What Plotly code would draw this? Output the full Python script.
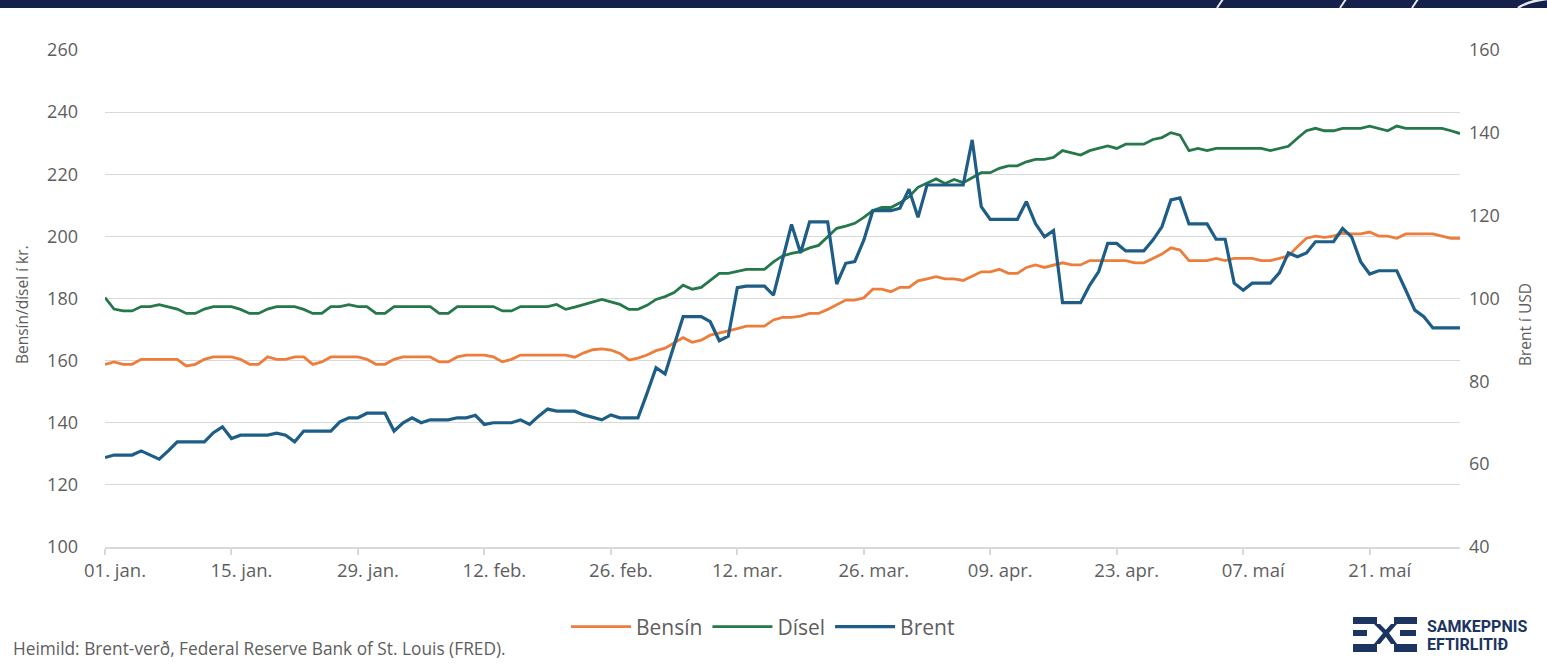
import pandas as pd
import plotly.graph_objects as go

# ---------------- data ----------------
start_date = "2022-01-01"

bensin = [158.8, 159.6, 158.8, 158.8, 160.4, 160.4, 160.4, 160.4, 160.4, 158.3,
          158.8, 160.4, 161.2, 161.2, 161.2, 160.4, 158.8, 158.8, 161.2, 160.4,
          160.4, 161.2, 161.2, 158.8, 159.6, 161.2, 161.2, 161.2, 161.2, 160.4,
          158.8, 158.8, 160.4, 161.2, 161.2, 161.2, 161.2, 159.6, 159.6, 161.2,
          161.8, 161.8, 161.8, 161.2, 159.6, 160.4, 161.8, 161.8, 161.8, 161.8,
          161.8, 161.8, 161.1, 162.5, 163.5, 163.8, 163.4, 162.3, 160.2, 160.8,
          161.8, 163.2, 164.0, 165.6, 167.4, 165.9, 166.6, 168.2, 169.0, 169.6,
          170.3, 171.1, 171.1, 171.1, 173.1, 173.9, 173.9, 174.3, 175.2, 175.2,
          176.5, 177.9, 179.5, 179.5, 180.2, 183.0, 183.0, 182.2, 183.6, 183.6,
          185.7, 186.3, 187.0, 186.3, 186.3, 185.8, 187.2, 188.6, 188.6, 189.4,
          188.1, 188.1, 190.0, 190.8, 190.0, 190.8, 191.5, 190.8, 190.8, 192.2,
          192.2, 192.2, 192.2, 192.2, 191.5, 191.5, 192.9, 194.3, 196.3, 195.6,
          192.2, 192.2, 192.2, 192.9, 192.2, 192.9, 192.9, 192.9, 192.2, 192.2,
          192.9, 193.7, 196.7, 199.4, 200.1, 199.7, 200.1, 201.0, 200.8, 200.8,
          201.4, 200.1, 200.1, 199.4, 200.8, 200.8, 200.8, 200.8, 200.1, 199.4,
          199.4]

disel = [180.3, 176.6, 176.0, 176.0, 177.4, 177.4, 178.0, 177.4, 176.6, 175.2,
         175.2, 176.6, 177.4, 177.4, 177.4, 176.5, 175.2, 175.2, 176.6, 177.4,
         177.4, 177.4, 176.5, 175.2, 175.2, 177.4, 177.4, 178.0, 177.4, 177.4,
         175.2, 175.2, 177.4, 177.4, 177.4, 177.4, 177.4, 175.2, 175.2, 177.4,
         177.4, 177.4, 177.4, 177.4, 176.0, 176.0, 177.4, 177.4, 177.4, 177.4,
         178.1, 176.5, 177.2, 178.1, 179.0, 179.7, 178.9, 178.1, 176.5, 176.5,
         177.8, 179.7, 180.6, 181.9, 184.3, 183.0, 183.6, 186.0, 188.1, 188.1,
         188.7, 189.4, 189.4, 189.4, 191.8, 193.7, 194.5, 195.1, 196.3, 197.1,
         199.9, 202.6, 203.3, 204.2, 206.1, 208.3, 209.3, 209.3, 210.8, 212.8,
         215.8, 217.2, 218.5, 217.0, 218.3, 217.3, 218.8, 220.5, 220.5, 221.9,
         222.7, 222.7, 224.0, 224.8, 224.8, 225.4, 227.6, 227.0, 226.2, 227.6,
         228.3, 229.1, 228.3, 229.7, 229.7, 229.7, 231.2, 231.8, 233.4, 232.6,
         227.6, 228.3, 227.6, 228.3, 228.3, 228.3, 228.3, 228.3, 228.3, 227.6,
         228.3, 229.0, 231.6, 234.0, 234.8, 234.0, 234.0, 234.8, 234.8, 234.8,
         235.5, 234.8, 234.0, 235.5, 234.8, 234.8, 234.8, 234.8, 234.8, 234.0,
         233.1]

brent = [61.6, 62.2, 62.2, 62.2, 63.2, 62.2, 61.2, 63.2, 65.4, 65.4,
         65.4, 65.4, 67.6, 69.0, 66.2, 67.0, 67.0, 67.0, 67.0, 67.5,
         67.0, 65.4, 68.0, 68.0, 68.0, 68.0, 70.2, 71.2, 71.2, 72.3,
         72.3, 72.3, 68.0, 70.0, 71.2, 70.0, 70.7, 70.7, 70.7, 71.2,
         71.2, 71.8, 69.6, 70.0, 70.0, 70.0, 70.7, 69.6, 71.6, 73.3,
         72.8, 72.8, 72.8, 71.9, 71.3, 70.7, 71.9, 71.2, 71.2, 71.2,
         77.1, 83.3, 81.8, 88.4, 95.6, 95.6, 95.6, 94.4, 89.8, 90.9,
         102.6, 103.0, 103.0, 103.0, 100.8, 109.3, 117.9, 111.0, 118.5, 118.5,
         118.5, 103.5, 108.5, 108.9, 114.1, 121.2, 121.2, 121.2, 121.8, 126.4,
         119.6, 127.4, 127.4, 127.4, 127.4, 127.4, 138.3, 122.2, 119.1, 119.1,
         119.1, 119.1, 123.4, 118.1, 114.9, 116.4, 99.0, 99.0, 99.0, 103.2,
         106.5, 113.3, 113.3, 111.5, 111.5, 111.5, 114.1, 117.3, 123.8, 124.3,
         118.0, 118.0, 118.0, 114.3, 114.3, 103.7, 102.0, 103.7, 103.7, 103.7,
         106.2, 111.0, 110.1, 111.0, 113.7, 113.7, 113.7, 116.9, 114.9, 108.9,
         105.9, 106.7, 106.7, 106.7, 102.0, 97.2, 95.6, 92.9, 92.9, 92.9,
         92.9]

tick_dates = ["2022-01-01", "2022-01-15", "2022-01-29", "2022-02-12", "2022-02-26",
              "2022-03-12", "2022-03-26", "2022-04-09", "2022-04-23", "2022-05-07",
              "2022-05-21"]
tick_labels = ["01. jan.", "15. jan.", "29. jan.", "12. feb.", "26. feb.",
               "12. mar.", "26. mar.", "09. apr.", "23. apr.", "07. maí", "21. maí"]

series_names = ["Bensín", "Dísel", "Brent"]

# ---------------- styling ----------------
W, H = 1547, 664
ML, MR, MT, MB = 105, 87, 50, 117
PW, PH = W - ML - MR, H - MT - MB

C_ORANGE = "#ED7D3B"
C_GREEN = "#25784A"
C_BLUE = "#1D5D86"
C_NAVY = "#15204B"
C_LOGO = "#1B3460"
C_GRID = "#D9D9D9"
C_TEXT = "#5E5E5E"
FONT = "Open Sans"


def px(x):
    return (x - ML) / PW


def py(y):
    return (H - MB - y) / PH


dates = pd.date_range(start_date, periods=len(disel), freq="D")

fig = go.Figure()
fig.add_trace(go.Scatter(x=dates, y=bensin, name=series_names[0], mode="lines",
                         line=dict(color=C_ORANGE, width=2.8)))
fig.add_trace(go.Scatter(x=dates, y=disel, name=series_names[1], mode="lines",
                         line=dict(color=C_GREEN, width=2.8)))
fig.add_trace(go.Scatter(x=dates, y=brent, name=series_names[2], mode="lines",
                         line=dict(color=C_BLUE, width=3.2), yaxis="y2"))

shapes = []
# top banner
shapes.append(dict(type="rect", xref="paper", yref="paper",
                   x0=px(-2), x1=px(W + 2), y0=py(8), y1=py(-2),
                   fillcolor=C_NAVY, line=dict(width=0), layer="above"))
for xa in [1220, 1343, 1415]:
    shapes.append(dict(type="line", xref="paper", yref="paper",
                       x0=px(xa + 3), x1=px(xa - 3), y0=py(-1), y1=py(8),
                       line=dict(color="#E6E8EE", width=2)))
shapes.append(dict(type="path", xref="paper", yref="paper",
                   path=f"M{px(1518)},{py(8)} Q{px(1528)},{py(1)} {px(1547)},{py(-1)}",
                   line=dict(color="#E6E8EE", width=2.5)))

# logo icon
def rect(x0, y0, x1, y1):
    return dict(type="rect", xref="paper", yref="paper",
                x0=px(x0), x1=px(x1), y0=py(y1), y1=py(y0),
                fillcolor=C_LOGO, line=dict(width=0))

shapes += [rect(1353, 617, 1377, 624), rect(1353, 630, 1367, 636), rect(1353, 644, 1377, 652),
           rect(1394, 617, 1417, 624), rect(1400, 630, 1416, 636), rect(1394, 644, 1417, 652)]
poly = (f"M{px(1374)},{py(624)} L{px(1380)},{py(624)} L{px(1389)},{py(633)} "
        f"L{px(1380)},{py(644)} L{px(1374)},{py(644)} L{px(1383)},{py(633)} Z")
shapes.append(dict(type="path", xref="paper", yref="paper", path=poly,
                   fillcolor=C_LOGO, line=dict(width=0)))
poly2 = (f"M{px(1397)},{py(624)} L{px(1391)},{py(624)} L{px(1383)},{py(633)} "
         f"L{px(1391)},{py(644)} L{px(1397)},{py(644)} L{px(1389)},{py(633)} Z")
shapes.append(dict(type="path", xref="paper", yref="paper", path=poly2,
                   fillcolor=C_LOGO, line=dict(width=0)))

annotations = [
    dict(text="Bensín/dísel í kr.", xref="paper", yref="paper", x=px(22), y=py(305),
         xanchor="center", yanchor="middle", textangle=-90, showarrow=False,
         font=dict(family=FONT, size=15.5, color=C_TEXT)),
    dict(text="Brent í USD", xref="paper", yref="paper", x=px(1525), y=py(325),
         xanchor="center", yanchor="middle", textangle=-90, showarrow=False,
         font=dict(family=FONT, size=15.5, color=C_TEXT)),
    dict(text="Heimild: Brent-verð, Federal Reserve Bank of St. Louis (FRED).",
         xref="paper", yref="paper", x=px(11), y=py(648), xanchor="left", yanchor="middle",
         showarrow=False, font=dict(family=FONT, size=17.3, color=C_TEXT)),
    dict(text="<b>SAMKEPPNIS</b>", xref="paper", yref="paper", x=px(1425), y=py(626),
         xanchor="left", yanchor="middle", showarrow=False,
         font=dict(family="Roboto", size=16, color=C_LOGO)),
    dict(text="<b>EFTIRLITIÐ</b>", xref="paper", yref="paper", x=px(1425), y=py(644),
         xanchor="left", yanchor="middle", showarrow=False,
         font=dict(family="Roboto", size=16, color=C_LOGO)),
]

fig.update_layout(
    width=W, height=H,
    margin=dict(l=ML, r=MR, t=MT, b=MB, pad=0),
    paper_bgcolor="white", plot_bgcolor="white",
    font=dict(family=FONT, color=C_TEXT),
    showlegend=True,
    legend=dict(orientation="h", x=px(763), y=py(627), xanchor="center", yanchor="middle",
                font=dict(family=FONT, size=21, color=C_TEXT), itemwidth=60,
                bgcolor="rgba(0,0,0,0)", tracegroupgap=0),
    xaxis=dict(type="date", range=[dates[0], dates[-1]],
               tickmode="array", tickvals=tick_dates, ticktext=tick_labels,
               showgrid=False, zeroline=False,
               showline=True, linecolor=C_GRID, linewidth=1.5,
               ticks="outside", ticklen=6, tickcolor=C_GRID, tickwidth=1.5,
               ticklabelshift=10,
               tickfont=dict(family=FONT, size=18.5, color=C_TEXT)),
    yaxis=dict(range=[100, 260], dtick=20, tick0=100,
               showgrid=True, gridcolor=C_GRID, gridwidth=1.3, zeroline=False,
               showline=False, ticks="", ticklabelstandoff=26,
               tickfont=dict(family=FONT, size=18, color=C_TEXT)),
    yaxis2=dict(range=[40, 160], dtick=20, tick0=40, overlaying="y", side="right",
                showgrid=False, zeroline=False, showline=False, ticks="",
                ticklabelstandoff=8,
                tickfont=dict(family=FONT, size=18, color=C_TEXT)),
    shapes=shapes,
    annotations=annotations,
)

fig.write_html(
    "out.html",
    config={"displayModeBar": False},
    post_script="document.body.style.margin='0';document.body.style.overflow='hidden';",
)
